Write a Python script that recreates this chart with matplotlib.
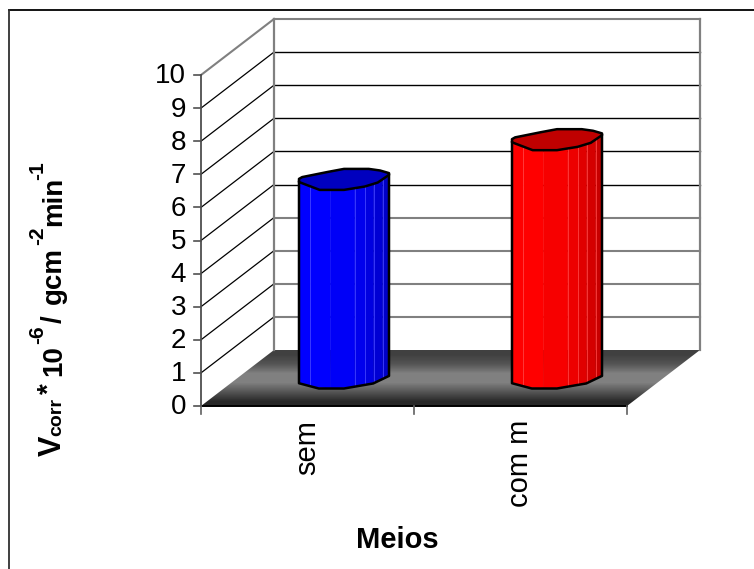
import numpy as np
import matplotlib
matplotlib.use('Agg')
import matplotlib.pyplot as plt
from matplotlib.lines import Line2D
from matplotlib.patches import Polygon

categorias = ['sem', 'com m']
vcorr = [6.0, 7.2]
yticks = list(range(0, 11))

# cross section of the column, in units of half width / half depth
frente_topo = [(-1, -0.25), (-0.54, -1), (0, -1), (0.46, -0.68), (0.75, -0.3), (1, 0.43)]
tras_topo = [(1, 0.6), (0.8, 0.85), (0.55, 1), (0, 1), (-0.35, 0.72), (-0.93, 0.22), (-1, 0.05)]
frente_base = [(-1, -0.5), (-0.56, -1), (0, -1), (0.65, -0.52), (1, 0.2)]

# facets of the column and how dark each one gets
facetas = [-1, -0.75, -0.3, 0.24, 0.47, 0.66, 0.86, 1]
escuro = [1.0, 1.0, 0.97, 0.93, 0.88, 0.83, 0.78]

W, H = 754, 569
plt.rcParams['font.family'] = ['Liberation Sans', 'DejaVu Sans']
fig = plt.figure(figsize=(W / 100, H / 100), dpi=100)

# only the top and left edges of the frame are visible
fig.add_artist(Line2D([9 / W, W / W], [1 - 10 / H, 1 - 10 / H], color='black', lw=1.3))
fig.add_artist(Line2D([9 / W, 9 / W], [0, 1 - 10 / H], color='#303030', lw=1.3))

# axes = front plane of the 3D box
ax = fig.add_axes([201 / W, 1 - 406 / H, 426 / W, 331 / H])
ax.axis('off')

px_x = 2 / 426
px_y = 10 / 331
dx = 73 * px_x
dy = 56 * px_y
clip = dict(clip_on=False)

# floor with its dark-light-dark band
piso = Polygon([(0, 0), (2, 0), (2 + dx, dy), (dx, dy)], closed=True, fc='none', ec='none', **clip)
ax.add_patch(piso)
faixa = np.array([0.25, 0.33, 0.5, 0.5, 0.33, 0.16]).reshape(-1, 1)
im = ax.imshow(faixa, cmap='gray', vmin=0, vmax=1, aspect='auto', extent=(0, 2 + dx, 0, dy),
               interpolation='bilinear', zorder=1)
im.set_clip_path(piso)
im.set_clip_box(fig.bbox)
ax.set_xlim(0, 2)
ax.set_ylim(0, 10)

# walls
for v in yticks[1:]:
    cinza = v in (1, 2, 3, 4, 10)
    ax.plot([dx, 2 + dx], [v + dy, v + dy], color='#808080' if cinza else 'black',
            lw=1.5 if cinza else 1.0, zorder=2, **clip)
    ax.plot([0, dx], [v, v + dy], color='#808080' if v == 10 else 'black',
            lw=1.5 if v == 10 else 0.9, zorder=2, **clip)
ax.plot([dx, dx], [dy, 10 + dy], color='#808080', lw=1.6, zorder=2, **clip)
ax.plot([2 + dx, 2 + dx], [dy, 10 + dy], color='#808080', lw=1.6, zorder=2, **clip)

# front axes and ticks
ax.plot([0, 0], [0, 10], color='#404040', lw=1.2, zorder=3, **clip)
ax.plot([0, 2], [0, 0], color='black', lw=1.4, zorder=3, **clip)
for v in yticks:
    ax.plot([-7 * px_x, 0], [v, v], color='#505050', lw=1.2, zorder=3, **clip)
    ax.text(-15 * px_x, v - 1.5 * px_y, str(v), ha='right', va='center', fontsize=20)
for i in range(3):
    ax.plot([i, i], [0, -8 * px_y], color='#606060', lw=1.2, zorder=3, **clip)


def contorno(pontos, xc, yc, meia_l, meia_p):
    return [(xc + a * meia_l, yc + b * meia_p) for a, b in pontos]


def arco(pontos, a):
    xs, ys = zip(*pontos)
    return np.interp(a, xs, ys)


def coluna(i, valor, cor):
    xc = i + 0.5 + dx / 2
    y0 = dy / 2
    y1 = y0 + valor
    ml = 45 * px_x
    mp = 10.5 * px_y
    cor = np.array(cor)
    # side facets, darker towards the right
    for k in range(len(escuro)):
        a0, a1 = facetas[k], facetas[k + 1]
        topo = [(a0, arco(frente_topo, a0)), (a1, arco(frente_topo, a1))]
        base = [(a1, arco(frente_base, a1)), (a0, arco(frente_base, a0))]
        pts = contorno(topo, xc, y1, ml, mp) + contorno(base, xc, y0, ml, mp)
        ax.add_patch(Polygon(pts, closed=True, fc=cor * escuro[k], ec=cor * escuro[k],
                             lw=0.3, zorder=4, **clip))
    # thin light seams between facets
    for a in facetas[1:2] + facetas[3:-1]:
        ax.plot([xc + a * ml] * 2, [y0 + arco(frente_base, a) * mp, y1 + arco(frente_topo, a) * mp],
                color=cor * 0.75 + 0.25, lw=0.6, zorder=5, **clip)
    tampa = contorno(frente_topo + tras_topo, xc, y1, ml, mp)
    ax.add_patch(Polygon(tampa, closed=True, fc=cor * 0.75, ec='black', lw=1.8,
                         joinstyle='round', zorder=6, **clip))
    lado = (contorno([frente_topo[0]], xc, y1, ml, mp) + contorno(frente_base, xc, y0, ml, mp)
            + contorno([frente_topo[-1]], xc, y1, ml, mp))
    xs, ys = zip(*lado)
    ax.plot(xs, ys, color='black', lw=1.8, zorder=6, **clip)


cores = [(0, 0, 1), (1, 0, 0)]
for i, v in enumerate(vcorr):
    coluna(i, v, cores[i])

# category labels run up from the axis
for i, nome in enumerate(categorias):
    ax.text(i + 0.5, -14 * px_y, nome, rotation=90, ha='center', va='top', fontsize=21)

fig.text(397 / W, 1 - 540 / H, 'Meios', ha='center', va='center', fontsize=21, fontweight='bold')

# y label built piece by piece: text, x baseline, y start, size
rotulo_y = [('V', 61, 456, 22), ('corr', 61, 436, 14), ('*', 57, 394, 20), ('10', 61, 376, 20),
            ('-6', 43, 344, 15), ('/', 61, 323, 20), ('gcm', 61, 304, 20), ('-2', 43, 245, 15),
            ('min', 61, 226, 20), ('-1', 43, 180, 15)]
for txt, xb, yb, fs in rotulo_y:
    fig.text(xb / W, 1 - yb / H, txt, rotation=90, rotation_mode='anchor', ha='left', va='baseline',
             fontsize=fs, fontweight='bold')

plt.savefig('out.png', dpi=100)
